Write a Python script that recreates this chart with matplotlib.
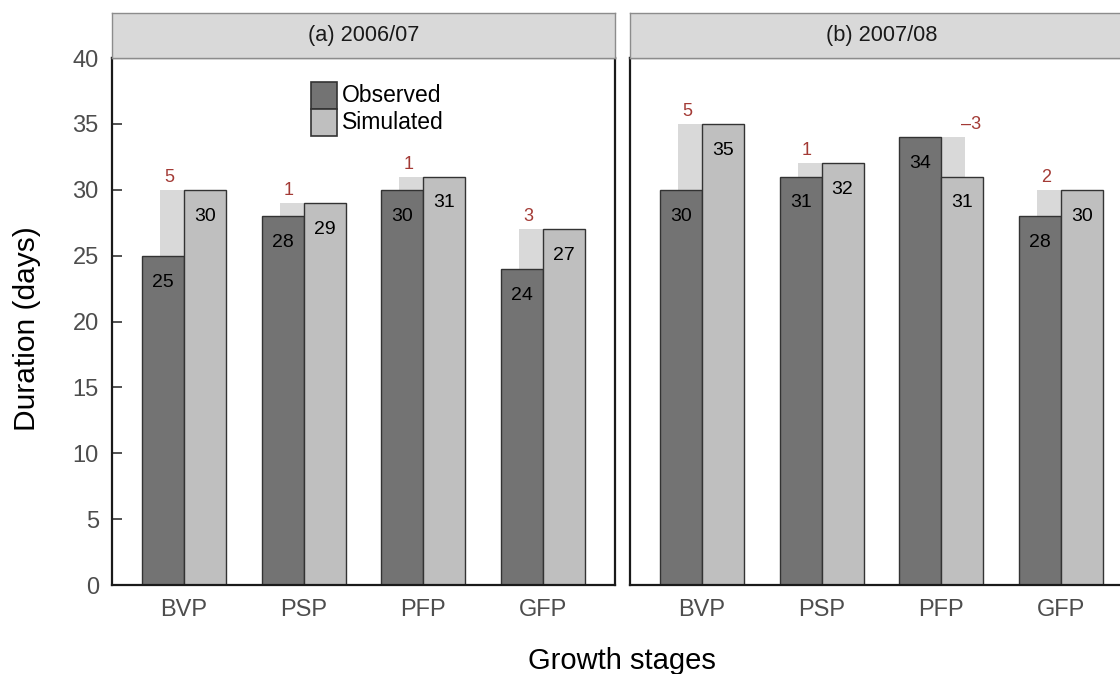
import numpy as np
import matplotlib.pyplot as plt
from matplotlib.patches import Rectangle

plt.rcParams['font.family'] = ['Liberation Sans', 'DejaVu Sans']

stages = ['BVP', 'PSP', 'PFP', 'GFP']
seasons = ['(a) 2006/07', '(b) 2007/08']
observed = {
    '(a) 2006/07': [25, 28, 30, 24],
    '(b) 2007/08': [30, 31, 34, 28],
}
simulated = {
    '(a) 2006/07': [30, 29, 31, 27],
    '(b) 2007/08': [35, 32, 31, 30],
}

obs_col = '#737373'
sim_col = '#bfbfbf'
diff_col = '#d9d9d9'
diff_txt = '#a33a35'
edge = '#333333'
frame = '#1a1a1a'

W, H = 1120, 674
fig = plt.figure(figsize=(W / 100, H / 100), dpi=100)

def box(x0, y0, x1, y1):
    # pixel box (top-left origin) -> figure fraction rect
    return [x0 / W, 1 - y1 / H, (x1 - x0) / W, (y1 - y0) / H]

panel_left = [112, 630]
panel_w = 503
width = 0.35
x = np.arange(1, len(stages) + 1)

for k, season in enumerate(seasons):
    left = panel_left[k]
    ax = fig.add_axes(box(left, 58, left + panel_w, 585))
    strip = fig.add_axes(box(left, 13, left + panel_w, 58))

    obs = np.array(observed[season])
    sim = np.array(simulated[season])
    diff = sim - obs

    # difference bands sit behind the bars, labelled above
    for xi, o, s, d in zip(x, obs, sim, diff):
        if d >= 0:
            ax.bar(xi - 0.2, s - o, width=0.2, bottom=o, align='edge',
                   color=diff_col, zorder=1)
            lx, lab = xi - 0.167, f'{d}'
        else:
            ax.bar(xi, o - s, width=0.2, bottom=s, align='edge',
                   color=diff_col, zorder=1)
            lx, lab = xi + 0.167, f'\u2013{abs(d)}'
        ax.annotate(lab, (lx, max(o, s)), xytext=(0, 9),
                    textcoords='offset points', color=diff_txt,
                    fontsize=13, ha='left', va='center', zorder=4)

    b1 = ax.bar(x - width / 2, obs, width=width, color=obs_col,
                edgecolor=edge, linewidth=1, zorder=2)
    b2 = ax.bar(x + width / 2, sim, width=width, color=sim_col,
                edgecolor=edge, linewidth=1, zorder=2)

    for bars, vals in ((b1, obs), (b2, sim)):
        for rect, v in zip(bars, vals):
            ax.annotate(f'{v}', (rect.get_x() + rect.get_width() / 2, v),
                        xytext=(0, -19), textcoords='offset points',
                        ha='center', va='center', fontsize=14, zorder=5)

    ax.set_xlim(0.4, 4.6)
    ax.set_ylim(0, 40)
    ax.set_xticks(x)
    ax.set_xticklabels(stages)
    ax.tick_params(axis='x', length=0, pad=10, labelsize=17,
                   labelcolor='#4d4d4d')
    if k == 0:
        ax.set_yticks(np.arange(0, 41, 5))
        ax.tick_params(axis='y', direction='in', length=7, width=1.2,
                       color='#333333', labelsize=17, labelcolor='#4d4d4d',
                       pad=9.5)
    else:
        ax.set_yticks([])
    for sp in ax.spines.values():
        sp.set_color(frame)
        sp.set_linewidth(1.6)

    strip.set_facecolor('#d9d9d9')
    strip.set_xticks([])
    strip.set_yticks([])
    for sp in strip.spines.values():
        sp.set_color('#8c8c8c')
        sp.set_linewidth(1)
    strip.text(0.5, 0.5, season, ha='center', va='center', fontsize=15.7,
               color='#1a1a1a', transform=strip.transAxes)

    if k == 0:
        # key: two stacked swatches with labels
        for i, (col, name) in enumerate(((obs_col, 'Observed'),
                                         (sim_col, 'Simulated'))):
            y0 = 0.9032 - i * 0.0513
            ax.add_patch(Rectangle((0.3956, y0), 0.0517, 0.0513,
                                   transform=ax.transAxes, facecolor=col,
                                   edgecolor=edge, linewidth=1.2, zorder=6))
            ax.text(0.457, y0 + 0.0256, name, transform=ax.transAxes,
                    fontsize=16.5, ha='left', va='center', zorder=6)

fig.text(27 / W, 1 - 329 / H, 'Duration (days)', rotation=90,
         ha='center', va='center', fontsize=21.5)
fig.text(622 / W, 1 - 661 / H, 'Growth stages', ha='center', va='center',
         fontsize=21)

fig.savefig('out.png', dpi=100)
